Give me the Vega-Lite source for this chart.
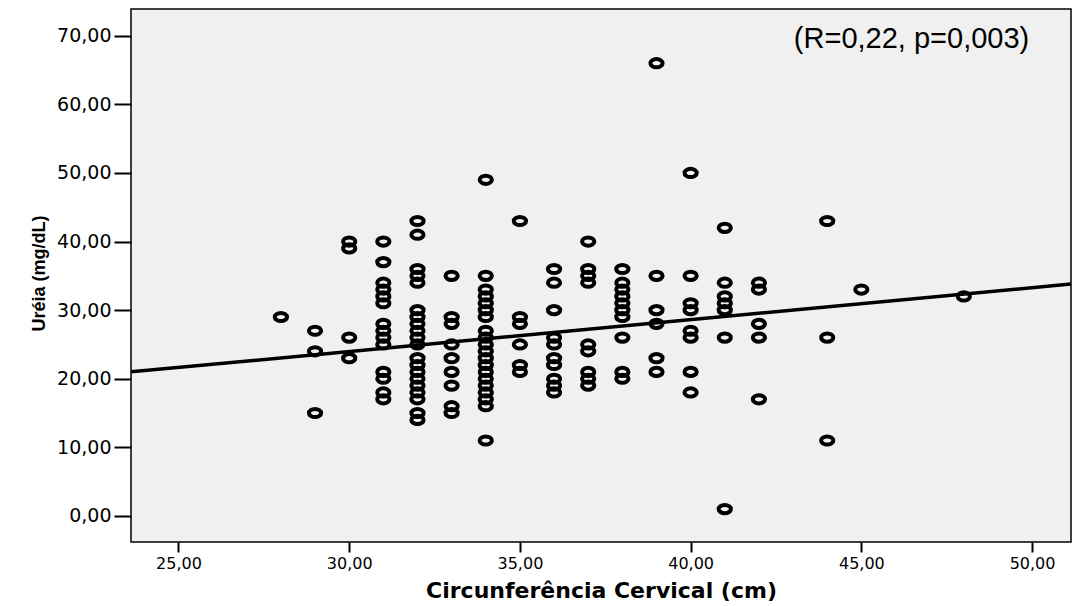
{
  "$schema": "https://vega.github.io/schema/vega-lite/v6.json",
  "width": 940,
  "height": 533,
  "autosize": {"type": "none"},
  "padding": {"left": 131, "top": 9, "right": 1, "bottom": 64},
  "background": "white",
  "config": {
    "view": {"fill": "#f0f0f0", "stroke": "#000000", "strokeWidth": 1.5},
    "axis": {"grid": false, "domain": false, "tickColor": "#000000", "tickWidth": 2, "labelColor": "#000000", "titleColor": "#000000", "labelFont": "DejaVu Sans"}
  },
  "datasets": {
    "pts": [
      {"cc": 28, "ureia": 29},
      {"cc": 29, "ureia": 27}, {"cc": 29, "ureia": 24}, {"cc": 29, "ureia": 15},
      {"cc": 30, "ureia": 40}, {"cc": 30, "ureia": 39}, {"cc": 30, "ureia": 26}, {"cc": 30, "ureia": 23},
      {"cc": 31, "ureia": 40}, {"cc": 31, "ureia": 37}, {"cc": 31, "ureia": 34}, {"cc": 31, "ureia": 33}, {"cc": 31, "ureia": 32}, {"cc": 31, "ureia": 31}, {"cc": 31, "ureia": 28}, {"cc": 31, "ureia": 27}, {"cc": 31, "ureia": 26}, {"cc": 31, "ureia": 25}, {"cc": 31, "ureia": 21}, {"cc": 31, "ureia": 20}, {"cc": 31, "ureia": 18}, {"cc": 31, "ureia": 17},
      {"cc": 32, "ureia": 43}, {"cc": 32, "ureia": 41}, {"cc": 32, "ureia": 36}, {"cc": 32, "ureia": 35}, {"cc": 32, "ureia": 34}, {"cc": 32, "ureia": 30}, {"cc": 32, "ureia": 29}, {"cc": 32, "ureia": 28}, {"cc": 32, "ureia": 27}, {"cc": 32, "ureia": 26}, {"cc": 32, "ureia": 25}, {"cc": 32, "ureia": 23}, {"cc": 32, "ureia": 22}, {"cc": 32, "ureia": 21}, {"cc": 32, "ureia": 20}, {"cc": 32, "ureia": 19}, {"cc": 32, "ureia": 18}, {"cc": 32, "ureia": 17}, {"cc": 32, "ureia": 15}, {"cc": 32, "ureia": 14},
      {"cc": 33, "ureia": 35}, {"cc": 33, "ureia": 29}, {"cc": 33, "ureia": 28}, {"cc": 33, "ureia": 25}, {"cc": 33, "ureia": 23}, {"cc": 33, "ureia": 21}, {"cc": 33, "ureia": 19}, {"cc": 33, "ureia": 16}, {"cc": 33, "ureia": 15},
      {"cc": 34, "ureia": 49}, {"cc": 34, "ureia": 35}, {"cc": 34, "ureia": 33}, {"cc": 34, "ureia": 32}, {"cc": 34, "ureia": 31}, {"cc": 34, "ureia": 30}, {"cc": 34, "ureia": 29}, {"cc": 34, "ureia": 27}, {"cc": 34, "ureia": 26}, {"cc": 34, "ureia": 25}, {"cc": 34, "ureia": 24}, {"cc": 34, "ureia": 23}, {"cc": 34, "ureia": 22}, {"cc": 34, "ureia": 21}, {"cc": 34, "ureia": 20}, {"cc": 34, "ureia": 19}, {"cc": 34, "ureia": 18}, {"cc": 34, "ureia": 17}, {"cc": 34, "ureia": 16}, {"cc": 34, "ureia": 11},
      {"cc": 35, "ureia": 43}, {"cc": 35, "ureia": 29}, {"cc": 35, "ureia": 28}, {"cc": 35, "ureia": 25}, {"cc": 35, "ureia": 22}, {"cc": 35, "ureia": 21},
      {"cc": 36, "ureia": 36}, {"cc": 36, "ureia": 34}, {"cc": 36, "ureia": 30}, {"cc": 36, "ureia": 26}, {"cc": 36, "ureia": 25}, {"cc": 36, "ureia": 23}, {"cc": 36, "ureia": 22}, {"cc": 36, "ureia": 20}, {"cc": 36, "ureia": 19}, {"cc": 36, "ureia": 18},
      {"cc": 37, "ureia": 40}, {"cc": 37, "ureia": 36}, {"cc": 37, "ureia": 35}, {"cc": 37, "ureia": 34}, {"cc": 37, "ureia": 25}, {"cc": 37, "ureia": 24}, {"cc": 37, "ureia": 21}, {"cc": 37, "ureia": 20}, {"cc": 37, "ureia": 19},
      {"cc": 38, "ureia": 36}, {"cc": 38, "ureia": 34}, {"cc": 38, "ureia": 33}, {"cc": 38, "ureia": 32}, {"cc": 38, "ureia": 31}, {"cc": 38, "ureia": 30}, {"cc": 38, "ureia": 29}, {"cc": 38, "ureia": 26}, {"cc": 38, "ureia": 21}, {"cc": 38, "ureia": 20},
      {"cc": 39, "ureia": 66}, {"cc": 39, "ureia": 35}, {"cc": 39, "ureia": 30}, {"cc": 39, "ureia": 28}, {"cc": 39, "ureia": 23}, {"cc": 39, "ureia": 21},
      {"cc": 40, "ureia": 50}, {"cc": 40, "ureia": 35}, {"cc": 40, "ureia": 31}, {"cc": 40, "ureia": 30}, {"cc": 40, "ureia": 27}, {"cc": 40, "ureia": 26}, {"cc": 40, "ureia": 21}, {"cc": 40, "ureia": 18},
      {"cc": 41, "ureia": 42}, {"cc": 41, "ureia": 34}, {"cc": 41, "ureia": 32}, {"cc": 41, "ureia": 31}, {"cc": 41, "ureia": 30}, {"cc": 41, "ureia": 26}, {"cc": 41, "ureia": 1},
      {"cc": 42, "ureia": 34}, {"cc": 42, "ureia": 33}, {"cc": 42, "ureia": 28}, {"cc": 42, "ureia": 26}, {"cc": 42, "ureia": 17},
      {"cc": 44, "ureia": 43}, {"cc": 44, "ureia": 26}, {"cc": 44, "ureia": 11},
      {"cc": 45, "ureia": 33},
      {"cc": 48, "ureia": 32}
    ],
    "fit": [
      {"cc": 23.61, "ureia": 21.0},
      {"cc": 51.14, "ureia": 33.8}
    ],
    "note": [
      {"cc": 46.47, "ureia": 68.25, "label": "(R=0,22, p=0,003)"}
    ]
  },
  "encoding": {
    "x": {
      "field": "cc", "type": "quantitative",
      "scale": {"domain": [23.61, 51.14], "nice": false, "zero": false},
      "axis": {
        "values": [25, 30, 35, 40, 45, 50],
        "labelExpr": "replace(format(datum.value, '.2f'), '.', ',')",
        "tickSize": 10, "labelPadding": 16, "labelBaseline": "alphabetic",
        "labelFontSize": 16,
        "title": "Circunferência Cervical (cm)",
        "titleFont": "DejaVu Sans", "titleFontWeight": "bold", "titleFontSize": 22,
        "titleBaseline": "alphabetic", "titleY": 55, "titleX": 470, "titleAlign": "center"
      }
    },
    "y": {
      "field": "ureia", "type": "quantitative",
      "scale": {"domain": [-3.8, 73.9], "nice": false, "zero": false},
      "axis": {
        "values": [0, 10, 20, 30, 40, 50, 60, 70],
        "labelExpr": "replace(format(datum.value, '.2f'), '.', ',')",
        "tickSize": 17, "labelPadding": 3, "labelFontSize": 19,
        "title": "Uréia (mg/dL)",
        "titleFont": "Liberation Sans", "titleFontWeight": "bold", "titleFontSize": 18,
        "titleAngle": -90, "titleBaseline": "alphabetic", "titleAlign": "center",
        "titleX": -87, "titleY": 264
      }
    }
  },
  "layer": [
    {
      "data": {"name": "fit"},
      "mark": {"type": "line", "color": "#000000", "strokeWidth": 3.5, "clip": true}
    },
    {
      "data": {"name": "pts"},
      "mark": {
        "type": "point",
        "shape": "M-1,0A1,0.667 0 1,1 1,0A1,0.667 0 1,1 -1,0Z",
        "size": 150,
        "filled": false,
        "fill": null,
        "stroke": "#000000",
        "strokeWidth": 4,
        "opacity": 1
      }
    },
    {
      "data": {"name": "note"},
      "mark": {"type": "text", "font": "Liberation Sans", "fontSize": 29, "color": "#000000", "align": "center", "baseline": "alphabetic"},
      "encoding": {"text": {"field": "label"}}
    }
  ]
}
